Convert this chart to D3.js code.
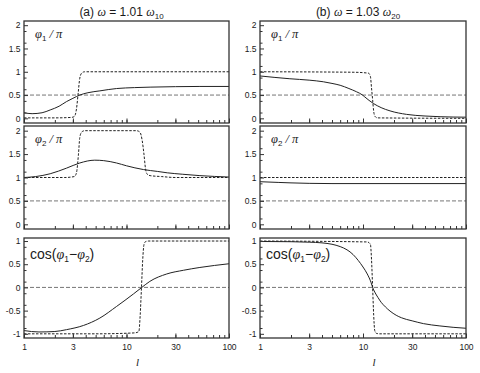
<!DOCTYPE html>
<html><head><meta charset="utf-8">
<script src="https://cdn.jsdelivr.net/npm/d3@7"></script>
<style>
html,body{margin:0;padding:0;background:#fff;}
svg{display:block;}
text, tspan{font-family:"Liberation Sans",Arial,sans-serif;fill:#1a1a1a;}
.sym{font-family:"Liberation Serif","Times New Roman",serif;font-style:italic;fill:#1a1a1a;}
</style></head>
<body>
<svg id="c" width="480" height="373"></svg>
<script>
// ---- data ----
const titles = ["(a)", "(b)"];
const omegaFactors = ["1.01", "1.03"];
const omegaSubs = ["10", "20"];
const xTickLabels = [1, 3, 10, 30, 100];
const yTicksPhase = [0, 0.5, 1, 1.5, 2];
const yTicksCos = [-1, -0.5, 0, 0.5, 1];
const refValues = [0.5, 0.5, 0];

// left column (a)
const a1Solid = [[1,0.12],[1.2,0.10],[1.5,0.12],[1.8,0.18],[2.2,0.26],[2.6,0.36],[3.0,0.43],[3.5,0.50],[4.2,0.55],[5.5,0.59],[8,0.64],[12,0.66],[17,0.67],[30,0.68],[52,0.685],[100,0.685]];
const a1Dot = [[1,0.01],[2,0.01],[2.9,0.02],[3.1,0.04],[3.25,0.2],[3.38,0.55],[3.5,0.86],[3.65,0.97],[3.9,1.0],[100,1.0]];
const a2Solid = [[1,1.0],[1.3,1.02],[1.8,1.08],[2.6,1.2],[3.5,1.31],[4.9,1.37],[6,1.36],[8,1.31],[10,1.25],[14.6,1.17],[20,1.13],[25,1.1],[35,1.07],[52,1.04],[100,1.01]];
const a2Dot = [[1,1.0],[2.5,1.0],[3.1,1.02],[3.25,1.1],[3.4,1.5],[3.5,1.85],[3.65,1.97],[3.9,2.0],[12.5,2.0],[13.5,1.97],[14.2,1.8],[14.8,1.5],[15.3,1.2],[15.8,1.08],[17,1.04],[22,1.02],[30,1.0],[100,1.0]];
const a3Solid = [[1,-0.93],[1.4,-0.96],[2,-0.95],[2.6,-0.91],[3.8,-0.82],[5.5,-0.66],[8,-0.41],[11.7,-0.14],[14.1,0.0],[16.9,0.13],[24.7,0.29],[36,0.37],[52,0.43],[100,0.51]];
const a3Dot = [[1,-1.0],[5,-1.0],[12,-0.98],[13.2,-0.95],[13.6,-0.6],[14,0],[14.4,0.6],[14.8,0.92],[15.4,0.99],[16.5,1.0],[100,1.0]];

// right column (b)
const b1Solid = [[1,0.91],[1.95,0.85],[3,0.82],[4.12,0.785],[5,0.75],[6,0.71],[7.3,0.64],[8.66,0.57],[9.9,0.5],[10.4,0.46],[12.6,0.32],[15,0.23],[18.3,0.16],[26.5,0.085],[40,0.05],[56,0.035],[100,0.025]];
const b1Dot = [[1,1.0],[8,0.99],[11.3,0.97],[11.8,0.9],[12.1,0.65],[12.4,0.4],[12.7,0.15],[13.1,0.04],[13.8,0.01],[100,0.0]];
const b2Solid = [[1,0.91],[1.5,0.895],[2,0.885],[3,0.875],[5,0.87],[100,0.87]];
const b2Dot = [[1,1.0],[100,1.0]];
const b3Solid = [[1,0.99],[2,0.985],[3,0.975],[4,0.96],[5,0.93],[6,0.88],[7,0.81],[8,0.71],[9,0.58],[10,0.44],[11,0.29],[12,0.1],[12.4,0.0],[13,-0.1],[14,-0.22],[15,-0.32],[16.5,-0.42],[18.3,-0.51],[21,-0.6],[26.5,-0.69],[30,-0.72],[38.6,-0.78],[55.8,-0.83],[75,-0.86],[100,-0.88]];
const b3Dot = [[1,1.0],[11,0.98],[11.8,0.93],[12.1,0.6],[12.4,0],[12.7,-0.6],[13.0,-0.93],[13.5,-0.99],[14.5,-1.0],[100,-1.0]];

const columns = [
  [[a1Solid,a1Dot],[a2Solid,a2Dot],[a3Solid,a3Dot]],
  [[b1Solid,b1Dot],[b2Solid,b2Dot],[b3Solid,b3Dot]]
];

// ---- layout ----
const svg = d3.select("#c");
const colX = [[24,229],[260,466]];
const rowY = [[21,123],[126,229],[238,338]];
const yDomains = [[-0.1,2.09],[-0.1,2.1],[-1.09,1.065]];

const minorX = [];
[1,10].forEach(d=>{for(let k=1;k<10;k++) minorX.push(d*k);});
minorX.push(100);

const line = (x,y)=>d3.line().x(d=>x(d[0])).y(d=>y(d[1])).curve(d3.curveMonotoneX);
const INK = "#1a1a1a";

columns.forEach((col,ci)=>{
  const [x0,x1] = colX[ci];
  const x = d3.scaleLog().domain([1,100]).range([x0,x1]);
  // title
  const t = svg.append("text").attr("x",(x0+x1)/2-5).attr("y",16).attr("text-anchor","middle").attr("font-size",12).attr("fill",INK);
  t.append("tspan").attr("fill",INK).text(titles[ci]+" ");
  t.append("tspan").attr("class","sym").attr("fill",INK).text("ω");
  t.append("tspan").attr("fill",INK).text(" = "+omegaFactors[ci]+" ");
  t.append("tspan").attr("class","sym").attr("fill",INK).text("ω");
  t.append("tspan").attr("fill",INK).attr("font-size",8).attr("dy",3).text(omegaSubs[ci]);

  col.forEach((series,ri)=>{
    const [y0,y1] = rowY[ri];
    const y = d3.scaleLinear().domain(yDomains[ri]).range([y1,y0]);
    const g = svg.append("g");
    const clipId = "clip"+ci+ri;
    g.append("clipPath").attr("id",clipId).append("rect").attr("x",x0).attr("y",y0).attr("width",x1-x0).attr("height",y1-y0);
    // reference line
    g.append("line").attr("x1",x0).attr("x2",x1).attr("y1",y(refValues[ri])).attr("y2",y(refValues[ri]))
      .attr("stroke","#666").attr("stroke-width",0.9).attr("stroke-dasharray","4,2");
    // dotted step
    g.append("path").datum(series[1]).attr("d",line(x,y)).attr("fill","none").attr("stroke","#222")
      .attr("stroke-width",1).attr("stroke-dasharray","2.5,1.5").attr("clip-path","url(#"+clipId+")");
    // solid
    g.append("path").datum(series[0]).attr("d",line(x,y)).attr("fill","none").attr("stroke","#222")
      .attr("stroke-width",1).attr("clip-path","url(#"+clipId+")");

    // axes (ticks inward)
    const yt = ri===2 ? yTicksCos : yTicksPhase;
    const yMinor = yt.slice(0,-1).flatMap((v,i)=>[v+(yt[i+1]-v)/2]);
    const yAx = d3.axisLeft(y).tickValues(yt).tickSizeInner(-4).tickSizeOuter(0).tickPadding(3.5).tickFormat(d=>String(d));
    const ga = svg.append("g").attr("transform",`translate(${x0},0)`).call(yAx);
    ga.selectAll("text").attr("font-size",8.5).attr("font-family","Liberation Sans, Arial, sans-serif").attr("fill",INK);
    ga.select(".domain").remove();
    ga.selectAll("line").attr("stroke","#333");
    const gm = svg.append("g").attr("transform",`translate(${x0},0)`)
      .call(d3.axisLeft(y).tickValues(yMinor.map((m,i)=>(yt[i]+m)/2).concat(yMinor.map((m,i)=>(m+yt[i+1])/2)))
        .tickSizeInner(-2.5).tickSizeOuter(0).tickFormat(""));
    gm.select(".domain").remove(); gm.selectAll("line").attr("stroke","#333");

    const gx = svg.append("g").attr("transform",`translate(0,${y1})`)
      .call(d3.axisBottom(x).tickValues(minorX).tickSizeInner(-3).tickSizeOuter(0).tickFormat(""));
    gx.select(".domain").remove(); gx.selectAll("line").attr("stroke","#333");
    const gx2 = svg.append("g").attr("transform",`translate(0,${y1})`)
      .call(d3.axisBottom(x).tickValues(xTickLabels).tickSizeInner(-4.5).tickSizeOuter(0).tickPadding(6)
        .tickFormat(ri===2 ? (d=>String(d)) : ""));
    gx2.select(".domain").remove(); gx2.selectAll("line").attr("stroke","#333");
    gx2.selectAll("text").attr("font-size",8.5).attr("font-family","Liberation Sans, Arial, sans-serif").attr("fill",INK);

    // frame
    svg.append("rect").attr("x",x0).attr("y",y0).attr("width",x1-x0).attr("height",y1-y0)
      .attr("fill","none").attr("stroke","#333").attr("stroke-width",1.3);

    // panel label
    if (ri < 2) {
      const lt = svg.append("text").attr("x",x0+11).attr("y",y0+17).attr("font-size",12.5).attr("fill",INK);
      lt.append("tspan").attr("class","sym").attr("fill",INK).text("φ");
      lt.append("tspan").attr("fill",INK).attr("font-size",8).attr("dy",3).text(String(ri+1));
      lt.append("tspan").attr("dy",-3).attr("class","sym").attr("fill",INK).text(" / π");
    } else {
      const lt = svg.append("text").attr("x",x0+6).attr("y",y0+21).attr("font-size",14).attr("fill",INK);
      lt.append("tspan").attr("fill",INK).text("cos(");
      lt.append("tspan").attr("class","sym").attr("fill",INK).text("φ");
      lt.append("tspan").attr("fill",INK).attr("font-size",8.5).attr("dy",3).text("1");
      lt.append("tspan").attr("fill",INK).attr("dy",-3).text("−");
      lt.append("tspan").attr("class","sym").attr("fill",INK).text("φ");
      lt.append("tspan").attr("fill",INK).attr("font-size",8.5).attr("dy",3).text("2");
      lt.append("tspan").attr("fill",INK).attr("dy",-3).text(")");
    }
  });
  // x label
  svg.append("text").attr("class","sym").attr("fill",INK).attr("x",(x0+x1)/2+11).attr("y",366).attr("text-anchor","middle")
    .attr("font-size",11).text("l");
});
</script>
</body></html>
